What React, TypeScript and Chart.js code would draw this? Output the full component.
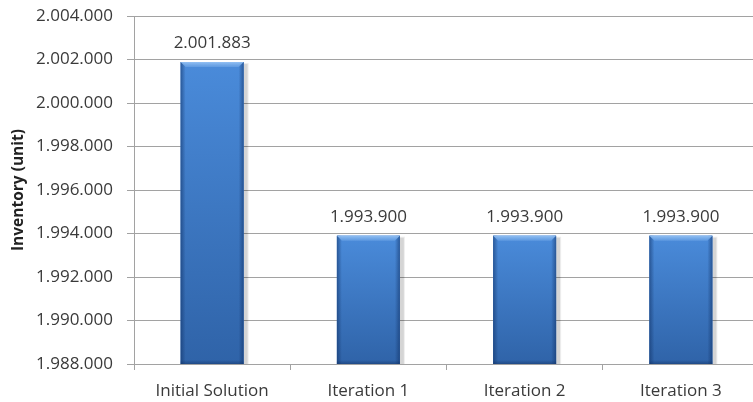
import React, { useEffect, useRef } from "react";
import { Chart, registerables } from "chart.js";

Chart.register(...registerables);

// Inventory per solution step
const categories = ["Initial Solution", "Iteration 1", "Iteration 2", "Iteration 3"];
const inventory = [2001883, 1993900, 1993900, 1993900];

// Value axis range
const yMin = 1988000;
const yMax = 2004000;
const yStep = 2000;
const yTitle = "Inventory (unit)";

const FONT = "'Open Sans', 'Noto Sans', sans-serif";
const TEXT = "#3a3a3a";
const GRID = "#a2a2a2";

// Thousands grouped with dots: 2001883 -> 2.001.883
const fmt = (v: number) =>
  Math.round(v).toString().replace(/\B(?=(\d{3})+(?!\d))/g, ".");

// Bar geometry clipped to the plot area (the axis does not start at zero)
const barBox = (chart: any, bar: any) => {
  const { x, y, base, width } = bar.getProps(["x", "y", "base", "width"], true);
  const bottom = Math.min(base, chart.chartArea.bottom);
  return { l: x - width / 2, r: x + width / 2, x, y, bottom, width };
};

// Shading that gives each bar its bevelled, glossy look
const bevelPlugin = {
  id: "bevel",
  beforeDatasetsDraw(chart: any) {
    const ctx = chart.ctx;
    const meta = chart.getDatasetMeta(0);
    ctx.save();
    meta.data.forEach((bar: any) => {
      const { l, y, bottom, width } = barBox(chart, bar);
      // soft drop shadow on the right side
      ctx.fillStyle = "rgba(0,0,0,0.10)";
      ctx.fillRect(l + 2, y + 2, width + 2, bottom - y - 2);
      ctx.fillStyle = "rgba(0,0,0,0.07)";
      ctx.fillRect(l + 1, y + 1, width + 4, bottom - y - 1);
    });
    ctx.restore();
  },
  afterDatasetsDraw(chart: any) {
    const ctx = chart.ctx;
    const meta = chart.getDatasetMeta(0);
    ctx.save();
    meta.data.forEach((bar: any, i: number) => {
      const { l, r, x, y, bottom, width } = barBox(chart, bar);
      const h = bottom - y;
      const e = 5;

      // body: light at the top of each bar, deeper blue towards the base
      let g = ctx.createLinearGradient(0, y, 0, bottom);
      g.addColorStop(0, "#4a8bda");
      g.addColorStop(1, "#2f63a8");
      ctx.fillStyle = g;
      ctx.fillRect(l, y, width, h);

      // darker side edges
      g = ctx.createLinearGradient(l, 0, l + e, 0);
      g.addColorStop(0, "rgba(16,48,100,0.55)");
      g.addColorStop(1, "rgba(16,48,100,0)");
      ctx.fillStyle = g;
      ctx.fillRect(l, y, e, h);
      g = ctx.createLinearGradient(r, 0, r - e, 0);
      g.addColorStop(0, "rgba(16,48,100,0.55)");
      g.addColorStop(1, "rgba(16,48,100,0)");
      ctx.fillStyle = g;
      ctx.fillRect(r - e, y, e, h);

      // bottom edge
      g = ctx.createLinearGradient(0, bottom, 0, bottom - 4);
      g.addColorStop(0, "rgba(16,48,100,0.5)");
      g.addColorStop(1, "rgba(16,48,100,0)");
      ctx.fillStyle = g;
      ctx.fillRect(l, bottom - 4, width, 4);

      // light bevel along the top
      ctx.beginPath();
      ctx.moveTo(l, y);
      ctx.lineTo(r, y);
      ctx.lineTo(r - e, y + e);
      ctx.lineTo(l + e, y + e);
      ctx.closePath();
      g = ctx.createLinearGradient(0, y, 0, y + e);
      g.addColorStop(0, "rgba(150,195,245,0.95)");
      g.addColorStop(1, "rgba(110,165,230,0.6)");
      ctx.fillStyle = g;
      ctx.fill();

      // value label above the bar
      ctx.fillStyle = TEXT;
      ctx.font = `17px ${FONT}`;
      ctx.textAlign = "center";
      ctx.textBaseline = "alphabetic";
      ctx.fillText(fmt(inventory[i]), x, y - 14);
    });
    ctx.restore();
  },
};

export default function App() {
  const canvasRef = useRef<HTMLCanvasElement | null>(null);

  useEffect(() => {
    const canvas = canvasRef.current;
    if (!canvas) return;
    const chart = new Chart(canvas, {
      type: "bar",
      data: {
        labels: categories,
        datasets: [
          {
            label: yTitle,
            data: inventory,
            categoryPercentage: 1,
            barPercentage: 0.403,
            borderWidth: 0,
            backgroundColor: "#3d78c6",
          },
        ],
      },
      options: {
        responsive: false,
        animation: false,
        devicePixelRatio: 1,
        layout: { padding: { top: 16, right: 1, left: 0, bottom: 0 } },
        plugins: {
          legend: { display: false },
          tooltip: { enabled: false },
        },
        scales: {
          x: {
            grid: {
              display: true,
              drawOnChartArea: false,
              drawTicks: true,
              tickLength: 6,
              color: GRID,
              offset: true,
            },
            border: { display: true, color: GRID },
            ticks: {
              font: { family: FONT, size: 17 },
              color: TEXT,
              padding: 11,
              maxRotation: 0,
            },
            afterFit: (s: any) => {
              s.height = 38;
              s.paddingLeft = 0;
              s.paddingRight = 0;
            },
          },
          y: {
            min: yMin,
            max: yMax,
            ticks: {
              stepSize: yStep,
              callback: (v: any) => fmt(Number(v)),
              font: { family: FONT, size: 17 },
              color: TEXT,
              padding: 14,
            },
            grid: { color: GRID, tickLength: 7, drawTicks: true },
            border: { display: true, color: GRID },
            title: {
              display: true,
              text: yTitle,
              font: { family: FONT, size: 15.5, weight: "bold" },
              color: "#222222",
              padding: { top: 9, bottom: 0 },
            },
            afterFit: (s: any) => {
              s.width = 134;
              s.paddingTop = 0;
              s.paddingBottom = 0;
            },
          },
        },
      },
      plugins: [bevelPlugin],
    } as any);
    return () => chart.destroy();
  }, []);

  return (
    <div
      style={{
        position: "absolute",
        left: 0,
        top: 0,
        width: 753,
        height: 402,
        overflow: "hidden",
        background: "#ffffff",
      }}
    >
      <canvas ref={canvasRef} width={760} height={402} style={{ display: "block" }} />
    </div>
  );
}
